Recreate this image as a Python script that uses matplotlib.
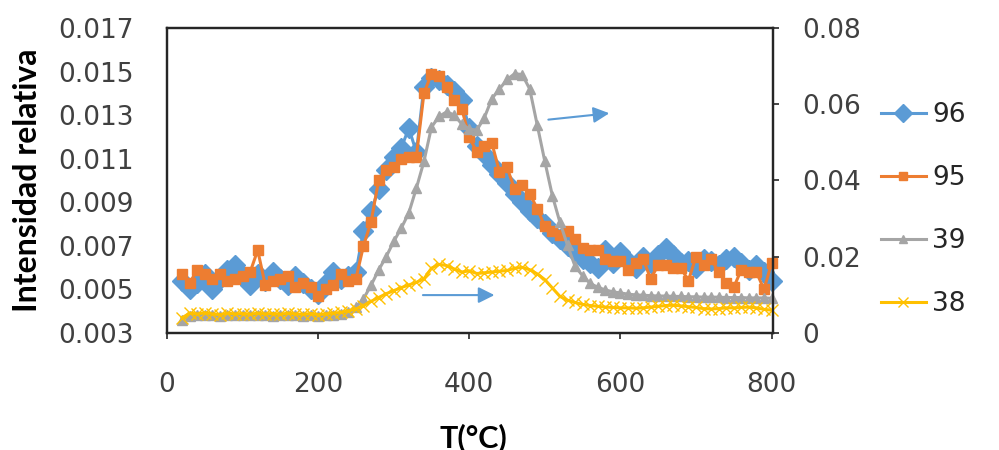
import numpy as np
import matplotlib
matplotlib.use("Agg")
import matplotlib.pyplot as plt
from matplotlib.ticker import FixedLocator, FormatStrFormatter

plt.rcParams['font.family'] = ['DejaVu Sans']

# temperature grid shared by all four series
temp = np.arange(20, 801, 10)

# left axis series
s96 = [0.0054, 0.0050, 0.0053, 0.0057, 0.0050, 0.0055, 0.0059, 0.0061, 0.0056, 0.0052,
       0.0057, 0.0054, 0.0058, 0.0055, 0.0052, 0.0056, 0.0053, 0.0050, 0.0048, 0.0053,
       0.0058, 0.0055, 0.0056, 0.0058, 0.0077, 0.0086, 0.0096, 0.0105, 0.0111, 0.0115,
       0.0124, 0.0113, 0.0143, 0.0147, 0.0146, 0.0144, 0.0141, 0.0137, 0.0124, 0.0116,
       0.0112, 0.0107, 0.0103, 0.0099, 0.0094, 0.0090, 0.0086, 0.0083, 0.0080, 0.0076,
       0.0073, 0.0070, 0.0067, 0.0064, 0.0062, 0.0060, 0.0068, 0.0062, 0.0067, 0.0063,
       0.0060, 0.0065, 0.0062, 0.0066, 0.0069, 0.0066, 0.0062, 0.0063, 0.0060, 0.0064,
       0.0063, 0.0061, 0.0064, 0.0065, 0.0062, 0.0059, 0.0061, 0.0058, 0.0054]
s95 = [0.0057, 0.0053, 0.0059, 0.0057, 0.0055, 0.0057, 0.0054, 0.0055, 0.0056, 0.0058,
       0.0068, 0.0052, 0.0054, 0.0055, 0.0056, 0.0051, 0.0053, 0.0051, 0.0047, 0.0050,
       0.0052, 0.0057, 0.0054, 0.0055, 0.0070, 0.0081, 0.0100, 0.0105, 0.0106, 0.0110,
       0.0111, 0.0111, 0.0140, 0.0149, 0.0148, 0.0143, 0.0137, 0.0133, 0.0120, 0.0113,
       0.0116, 0.0117, 0.0104, 0.0106, 0.0096, 0.0098, 0.0094, 0.0087, 0.0079, 0.0077,
       0.0075, 0.0077, 0.0073, 0.0069, 0.0068, 0.0068, 0.0064, 0.0063, 0.0063, 0.0059,
       0.0062, 0.0064, 0.0055, 0.0061, 0.0061, 0.0060, 0.0060, 0.0054, 0.0065, 0.0061,
       0.0064, 0.0058, 0.0053, 0.0051, 0.0059, 0.0058, 0.0058, 0.0050, 0.0062]

# right axis series
s39 = [0.0035, 0.0045, 0.0048, 0.0046, 0.0047, 0.0045, 0.0048, 0.0046, 0.0047, 0.0048,
       0.0046, 0.0047, 0.0045, 0.0048, 0.0046, 0.0047, 0.0045, 0.0046, 0.0044, 0.0046,
       0.0048, 0.0050, 0.0055, 0.0068, 0.0090, 0.0125, 0.0165, 0.0200, 0.0240, 0.0275,
       0.0315, 0.0380, 0.0450, 0.0540, 0.0568, 0.0580, 0.0572, 0.0548, 0.0535, 0.0532,
       0.0565, 0.0615, 0.0640, 0.0665, 0.0680, 0.0678, 0.0640, 0.0545, 0.0450, 0.0360,
       0.0290, 0.0230, 0.0175, 0.0150, 0.0130, 0.0120, 0.0113, 0.0108, 0.0105, 0.0102,
       0.0100, 0.0099, 0.0098, 0.0097, 0.0097, 0.0096, 0.0096, 0.0095, 0.0095, 0.0094,
       0.0094, 0.0094, 0.0093, 0.0093, 0.0093, 0.0092, 0.0092, 0.0092, 0.0091]
s38 = [0.0040, 0.0052, 0.0050, 0.0053, 0.0050, 0.0048, 0.0052, 0.0050, 0.0051, 0.0049,
       0.0052, 0.0050, 0.0051, 0.0049, 0.0052, 0.0050, 0.0049, 0.0051, 0.0048, 0.0050,
       0.0052, 0.0054, 0.0058, 0.0063, 0.0072, 0.0083, 0.0093, 0.0103, 0.0111, 0.0119,
       0.0126, 0.0133, 0.0142, 0.0170, 0.0180, 0.0177, 0.0168, 0.0160, 0.0163, 0.0156,
       0.0158, 0.0160, 0.0162, 0.0164, 0.0170, 0.0172, 0.0166, 0.0155, 0.0140, 0.0118,
       0.0096, 0.0086, 0.0080, 0.0075, 0.0072, 0.0070, 0.0068, 0.0067, 0.0066, 0.0066,
       0.0065, 0.0066, 0.0068, 0.0070, 0.0072, 0.0073, 0.0071, 0.0069, 0.0067, 0.0064,
       0.0063, 0.0064, 0.0066, 0.0066, 0.0067, 0.0068, 0.0066, 0.0062, 0.0060]

left_ticks = [0.003, 0.005, 0.007, 0.009, 0.011, 0.013, 0.015, 0.017]
right_ticks = [0, 0.02, 0.04, 0.06, 0.08]
x_ticks = [0, 200, 400, 600, 800]

BLUE = '#5B9BD5'
ORANGE = '#ED7D31'
GRAY = '#A5A5A5'
YELLOW = '#FFC000'

fig = plt.figure(figsize=(9.99, 4.5), dpi=100)
ax = fig.add_axes([0.1672, 0.26, 0.6066, 0.6778])
ax2 = ax.twinx()

l96, = ax.plot(temp, s96, color=BLUE, lw=2.2, marker='D', ms=10, clip_on=False, label='96')
l95, = ax.plot(temp, s95, color=ORANGE, lw=2.2, marker='s', ms=6.5, clip_on=False, label='95')
l39, = ax2.plot(temp, s39, color=GRAY, lw=2.2, marker='^', ms=6.5, clip_on=False, label='39')
l38, = ax2.plot(temp, s38, color=YELLOW, lw=2.2, marker='x', ms=8, mew=1.0, clip_on=False, label='38')

ax.set_xlim(0, 802)
ax.set_ylim(0.003, 0.017)
ax2.set_ylim(0, 0.08)

ax.xaxis.set_major_locator(FixedLocator(x_ticks))
ax.yaxis.set_major_locator(FixedLocator(left_ticks))
ax2.yaxis.set_major_locator(FixedLocator(right_ticks))
ax.yaxis.set_major_formatter(FormatStrFormatter('%.3f'))
ax2.yaxis.set_major_formatter(lambda v, p: '0' if v == 0 else f'{v:.2f}')

ax.tick_params(axis='y', length=0, pad=24, labelsize=19, colors='#404040')
ax.tick_params(axis='x', length=4, width=1.2, pad=24, labelsize=19, colors='#404040')
ax2.tick_params(axis='y', length=4, width=1.2, pad=17, labelsize=19, colors='#404040')
for a in (ax, ax2):
    for s in a.spines.values():
        s.set_color('#262626')
        s.set_linewidth(1.6)
ax.tick_params(axis='x', color='#262626')
ax2.tick_params(axis='y', color='#262626')

ax.set_ylabel('Intensidad relativa', fontsize=23, fontweight='bold', family='Lato')
ax.yaxis.set_label_coords(-0.207, 0.5)
ax.set_xlabel('T(°C)', fontsize=22, fontweight='bold', family='Lato')
ax.xaxis.set_label_coords(0.505, -0.295)

# arrows pointing at the right axis
arrow_style = dict(arrowstyle='-|>', color=BLUE, lw=1.5, mutation_scale=24)
ax.annotate('', xy=(589, 0.0131), xytext=(501, 0.01278), arrowprops=arrow_style)
ax.annotate('', xy=(437, 0.00474), xytext=(335, 0.00474), arrowprops=arrow_style)

leg = fig.legend(handles=[l96, l95, l39, l38], loc='upper left',
                 bbox_to_anchor=(0.858, 0.826), frameon=False, fontsize=19,
                 handlelength=1.7, handletextpad=0.25, labelspacing=1.4,
                 markerscale=0.9)
for t in leg.get_texts():
    t.set_color('#262626')

fig.savefig('out.png', dpi=100)
